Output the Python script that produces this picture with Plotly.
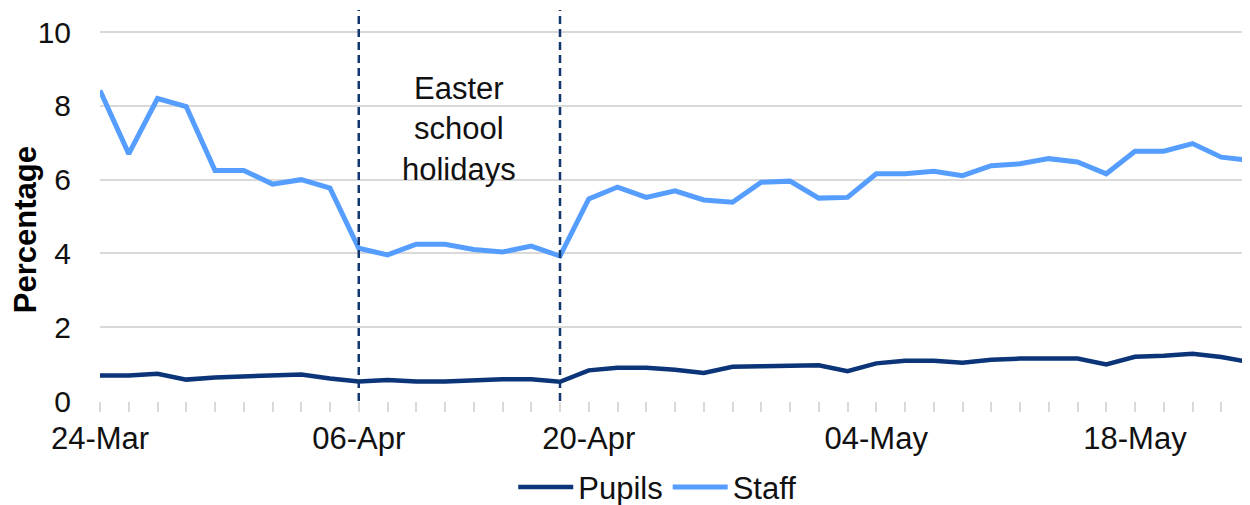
import plotly.graph_objects as go

dates = ["24-Mar", "25-Mar", "26-Mar", "27-Mar", "30-Mar", "31-Mar", "01-Apr", "02-Apr", "03-Apr",
         "06-Apr", "07-Apr", "08-Apr", "09-Apr", "14-Apr", "15-Apr", "16-Apr", "17-Apr",
         "20-Apr", "21-Apr", "22-Apr", "23-Apr", "24-Apr", "27-Apr", "28-Apr", "29-Apr", "30-Apr", "01-May",
         "04-May", "05-May", "06-May", "07-May", "11-May", "12-May", "13-May", "14-May", "15-May",
         "18-May", "19-May", "20-May", "21-May", "22-May"]

pupils = [0.69, 0.69, 0.74, 0.58, 0.64, 0.67, 0.67, 0.72, 0.61,
          0.53, 0.57, 0.53, 0.53, 0.57, 0.59, 0.59, 0.52,
          0.83, 0.90, 0.90, 0.85, 0.76, 0.93, 0.94, 0.97, 0.97, 0.81,
          1.02, 1.09, 1.09, 1.04, 1.12, 1.15, 1.15, 1.15, 0.99,
          1.20, 1.23, 1.28, 1.19, 1.05]

staff = [8.42, 6.70, 8.20, 7.98, 6.25, 6.25, 5.88, 6.00, 5.77,
         4.14, 3.96, 4.25, 4.25, 4.11, 4.04, 4.20, 3.93,
         5.48, 5.80, 5.52, 5.70, 5.45, 5.39, 5.93, 5.96, 5.50, 5.52,
         6.16, 6.16, 6.23, 6.11, 6.38, 6.43, 6.57, 6.48, 6.16,
         6.77, 6.77, 6.98, 6.61, 6.52]

tick_labels = ["24-Mar", "06-Apr", "20-Apr", "04-May", "18-May"]
y_ticks = [0, 2, 4, 6, 8, 10]
holiday_start = "06-Apr"
holiday_end = "17-Apr"
holiday_text = "Easter<br>school<br>holidays"

FONT = "Liberation Sans, Arial, sans-serif"
PUPIL_C = "#0B3578"
STAFF_C = "#559EFF"
GRID_C = "#D9D9D9"

fig = go.Figure()
fig.add_trace(go.Scatter(x=dates, y=pupils, mode="lines", name="Pupils",
                         line=dict(color=PUPIL_C, width=4.5)))
fig.add_trace(go.Scatter(x=dates, y=staff, mode="lines", name="Staff",
                         line=dict(color=STAFF_C, width=5)))

for d in (holiday_start, holiday_end):
    i = dates.index(d)
    fig.add_shape(type="line", xref="x", yref="y", x0=i, x1=i, y0=0, y1=10.6,
                  line=dict(color="#12366E", width=2.5, dash="8px,5px"), layer="above")

mid = (dates.index(holiday_start) + dates.index(holiday_end)) / 2
fig.add_annotation(x=mid, y=7.38, xref="x", yref="y", text=holiday_text, showarrow=False,
                   font=dict(family=FONT, size=31, color="#111111"), align="center")

fig.add_annotation(x=-0.0652, y=0.437, xref="paper", yref="paper", text="<b>Percentage</b>",
                   textangle=-90, showarrow=False, xanchor="center", yanchor="middle",
                   font=dict(family=FONT, size=31, color="#000000"))

# page body has an 8px default margin, so the figure is sized to fill the window from there
fig.update_layout(
    width=1242, height=497,
    margin=dict(l=92, r=0, t=2, b=104, autoexpand=False),
    paper_bgcolor="white", plot_bgcolor="white",
    font=dict(family=FONT, size=31, color="#000000"),
    showlegend=True,
    legend=dict(orientation="h", x=0.485, xanchor="center", y=-0.152, yanchor="top",
                font=dict(family=FONT, size=31, color="#111111"),
                itemwidth=55, tracegroupgap=0),
    xaxis=dict(type="category", range=[0, len(dates) - 1], automargin=False,
               tickmode="array", tickvals=dates,
               ticktext=[d if d in tick_labels else "" for d in dates],
               ticks="outside", ticklen=10, tickwidth=1.5, tickcolor=GRID_C,
               showgrid=False, showline=False, zeroline=False,
               tickfont=dict(family=FONT, size=31, color="#111111"),
               tickangle=0),
    yaxis=dict(range=[0, 10.6], tickmode="array", tickvals=y_ticks, automargin=False,
               showgrid=True, gridcolor=GRID_C, gridwidth=1.5,
               zeroline=False, showline=False, ticks="",
               ticklabelstandoff=28,
               tickfont=dict(family=FONT, size=30, color="#111111")),
)

fig.write_html("out.html")
